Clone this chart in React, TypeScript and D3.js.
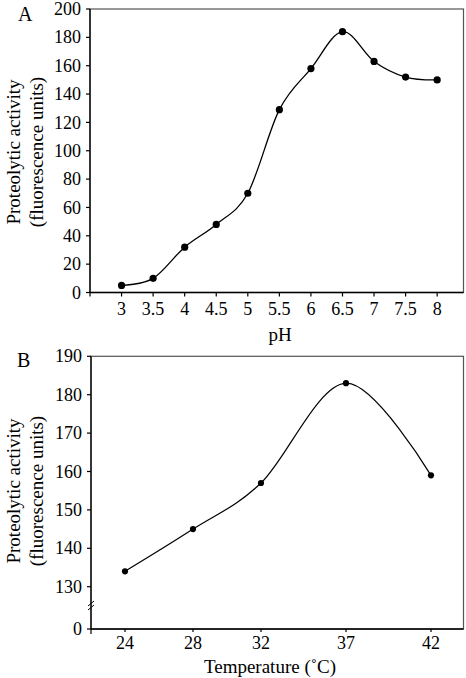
import React from "react";
import * as d3 from "d3";

const phValues = [3, 3.5, 4, 4.5, 5, 5.5, 6, 6.5, 7, 7.5, 8];
const phActivity = [5, 10, 32, 48, 70, 129, 158, 184, 163, 152, 150];
const phYTicks = [0, 20, 40, 60, 80, 100, 120, 140, 160, 180, 200];

const temps = [24, 28, 32, 37, 42];
const tempActivity = [134, 145, 157, 183, 159];
const tempYTicks = [0, 130, 140, 150, 160, 170, 180, 190];

const FONT = "'Liberation Serif', 'Times New Roman', serif";

export default function App() {
  // Panel A scales
  const axL = 90, axR = 463.5, ayT = 9, ayB = 292.5;
  const xA = d3.scaleLinear().domain([2.5, 8.5]).range([axL, axL + 6 * 63.12]);
  const yA = d3.scaleLinear().domain([0, 200]).range([ayB, ayT]);
  const lineA = d3
    .line<number>()
    .x((_, i) => xA(phValues[i]))
    .y((d) => yA(d))
    .curve(d3.curveCardinal.tension(0));

  // Panel B scales
  const bxL = 91, bxR = 463.5, byT = 356.3, byB = 629;
  const xB = d3.scaleLinear().domain([24, 42]).range([125, 431]);
  const yB = d3.scaleLinear().domain([0, 130, 190]).range([byB, 586.7, byT]);
  const lineB = d3
    .line<number>()
    .x((_, i) => xB(temps[i]))
    .y((d) => yB(d))
    .curve(d3.curveCardinal.tension(0));

  const tickFont = 18;
  const titleFont = 19;

  return (
    <svg
      width={466}
      height={678}
      style={{ position: "absolute", left: 0, top: 0, background: "#fff" }}
      fontFamily={FONT}
    >
      <rect x={0} y={0} width={466} height={678} fill="#fff" />
      {/* ===== Panel A ===== */}
      <text x={18} y={21} fontSize={20}>A</text>
      <rect x={axL} y={ayT} width={axR - axL} height={ayB - ayT} fill="none" stroke="#555" strokeWidth={1.2} />
      <line x1={axL} x2={axL} y1={ayT} y2={ayB} stroke="#000" strokeWidth={1.3} />
      <line x1={axL} x2={axR} y1={ayB} y2={ayB} stroke="#000" strokeWidth={1.3} />
      {phYTicks.map((t) => (
        <g key={"ya" + t}>
          <line x1={axL - 4} x2={axL} y1={yA(t)} y2={yA(t)} stroke="#000" strokeWidth={1.2} />
          <text x={81} y={yA(t)} dy="0.34em" textAnchor="end" fontSize={tickFont}>{t}</text>
        </g>
      ))}
      <line x1={axL} x2={axL} y1={ayB} y2={ayB + 4} stroke="#000" strokeWidth={1.2} />
      {phValues.map((v) => (
        <g key={"xa" + v}>
          <line x1={xA(v)} x2={xA(v)} y1={ayB} y2={ayB + 4} stroke="#000" strokeWidth={1.2} />
          <text x={xA(v)} y={315} textAnchor="middle" fontSize={tickFont}>{v}</text>
        </g>
      ))}
      <path d={lineA(phActivity) || ""} fill="none" stroke="#000" strokeWidth={1.3} />
      {phActivity.map((d, i) => (
        <circle key={"pa" + i} cx={xA(phValues[i])} cy={yA(d)} r={3.6} fill="#000" />
      ))}
      <text x={280} y={341} textAnchor="middle" fontSize={titleFont}>pH</text>
      <g transform={`translate(13,152) rotate(-90)`}>
        <text x={0} y={0} dy="0.35em" textAnchor="middle" fontSize={titleFont}>Proteolytic activity</text>
      </g>
      <g transform={`translate(36,152) rotate(-90)`}>
        <text x={0} y={0} dy="0.35em" textAnchor="middle" fontSize={titleFont}>(fluorescence units)</text>
      </g>

      {/* ===== Panel B ===== */}
      <text x={17} y={367} fontSize={20}>B</text>
      <rect x={bxL} y={byT} width={bxR - bxL} height={byB - byT} fill="none" stroke="#555" strokeWidth={1.2} />
      <line x1={bxL} x2={bxL} y1={byT} y2={byB} stroke="#000" strokeWidth={1.3} />
      <line x1={bxL} x2={bxR} y1={byB} y2={byB} stroke="#000" strokeWidth={1.3} />
      {tempYTicks.map((t) => (
        <g key={"yb" + t}>
          <line x1={bxL - 4} x2={bxL} y1={yB(t)} y2={yB(t)} stroke="#000" strokeWidth={1.2} />
          <text x={82} y={yB(t)} dy="0.34em" textAnchor="end" fontSize={tickFont}>{t}</text>
        </g>
      ))}
      {/* axis break */}
      <line x1={bxL - 3} x2={bxL + 3} y1={606} y2={601} stroke="#000" strokeWidth={1} />
      <line x1={bxL - 3} x2={bxL + 3} y1={610} y2={605} stroke="#000" strokeWidth={1} />
      <line x1={bxL} x2={bxL} y1={byB} y2={byB + 5} stroke="#000" strokeWidth={1.2} />
      {temps.map((v) => (
        <g key={"xb" + v}>
          <line x1={xB(v)} x2={xB(v)} y1={byB} y2={byB + 3} stroke="#000" strokeWidth={1.2} />
          <text x={xB(v)} y={649} textAnchor="middle" fontSize={tickFont}>{v}</text>
        </g>
      ))}
      <path d={lineB(tempActivity) || ""} fill="none" stroke="#000" strokeWidth={1.2} />
      {tempActivity.map((d, i) => (
        <circle key={"pb" + i} cx={xB(temps[i])} cy={yB(d)} r={3.1} fill="#000" />
      ))}
      <text x={270} y={673} textAnchor="middle" fontSize={titleFont}>Temperature (˚C)</text>
      <g transform={`translate(13,491) rotate(-90)`}>
        <text x={0} y={0} dy="0.35em" textAnchor="middle" fontSize={titleFont}>Proteolytic activity</text>
      </g>
      <g transform={`translate(36,491) rotate(-90)`}>
        <text x={0} y={0} dy="0.35em" textAnchor="middle" fontSize={titleFont}>(fluorescence units)</text>
      </g>
    </svg>
  );
}
